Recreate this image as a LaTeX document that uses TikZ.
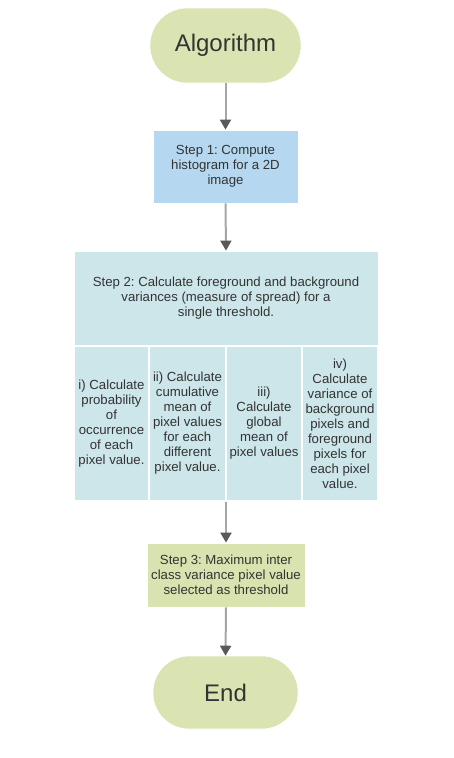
\documentclass[tikz,border=0pt]{standalone}
\usepackage{fontspec}
\setmainfont{Liberation Sans}
\usetikzlibrary{arrows.meta}
\frenchspacing
\definecolor{termfill}{HTML}{D9E4B2}
\definecolor{bluefill}{HTML}{B5D8F0}
\definecolor{tealfill}{HTML}{CDE6E9}
\definecolor{step3fill}{HTML}{D8E3B0}
\definecolor{txt}{HTML}{333333}
\definecolor{linegray}{HTML}{A6A6A6}
\definecolor{tipgray}{HTML}{595959}
\tikzset{
  term/.style={rectangle, rounded corners=37pt, fill=termfill, draw=white, line width=0.6pt,
    minimum width=151pt, minimum height=75pt, text=txt, font=\fontsize{24}{28}\selectfont, inner sep=0pt},
  procbox/.style={rectangle, draw=white, line width=0.8pt, text=txt, align=center,
    font=\frenchspacing\fontsize{13.2}{15}\selectfont, inner sep=0pt},
  cell/.style={procbox, fill=tealfill, draw=white, line width=1.6pt, minimum height=155pt},
  flow/.style={draw=linegray, line width=2pt, -{Triangle[color=tipgray,length=10pt,width=11pt]}, shorten >=0pt}
}
\begin{document}
\begin{tikzpicture}[x=1pt,y=-1pt]
\useasboundingbox (0,0) rectangle (454,758);
\node[term] (alg) at (225.5,45.5) {Algorithm};
\node[procbox, fill=bluefill, minimum width=145pt, minimum height=73pt] (s1) at (225.5,166.5)
  {Step 1: Compute\\histogram for a 2D\\image};
\node[procbox, fill=tealfill, minimum width=304pt, minimum height=95pt] (s2) at (226,298.5)
  {Step 2: Calculate foreground and background\\variances (measure of spread) for a\\single threshold.};
\node[cell, minimum width=75pt] (c1) at (111.5,423.5)
  {i) Calculate\\probability\\of\\occurrence\\of each\\pixel value.};
\node[cell, minimum width=77pt] (c2) at (187.5,423.5)
  {ii) Calculate\\cumulative\\mean of\\pixel values\\for each\\different\\pixel value.};
\node[cell, minimum width=76pt] (c3) at (264,423.5)
  {iii)\\Calculate\\global\\mean of\\pixel values};
\node[cell, minimum width=76pt] (c4) at (340,423.5)
  {iv)\\Calculate\\variance of\\background\\pixels and\\foreground\\pixels for\\each pixel\\value.};
\node[procbox, fill=step3fill, minimum width=158pt, minimum height=64pt] (s3) at (226,575)
  {Step 3: Maximum inter\\class variance pixel value\\selected as threshold};
\node[term, minimum width=145pt, minimum height=73pt, rounded corners=36pt] (end) at (225.5,692.5) {End};
\draw[flow] (alg.south) -- (s1.north);
\draw[flow] (s1.south) -- (s2.north);
\draw[flow] (c3.south -| s2.south) -- (s3.north);
\draw[flow] (s3.south) -- (end.north);
\end{tikzpicture}
\end{document}
